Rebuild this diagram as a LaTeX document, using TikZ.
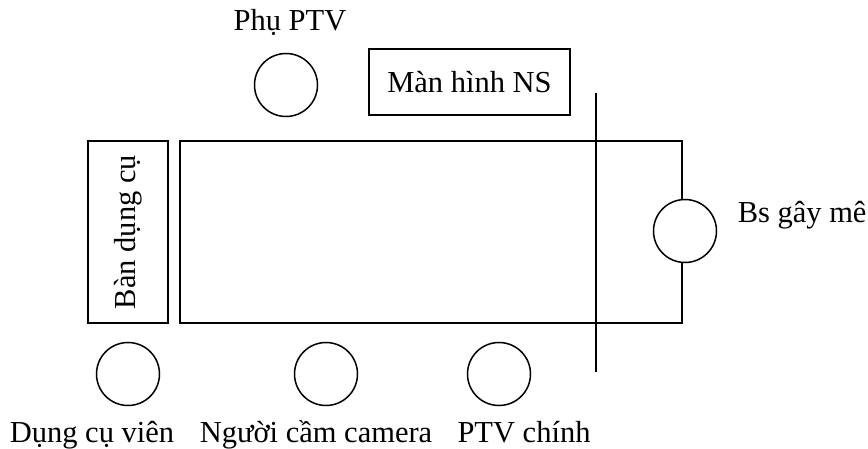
\documentclass[tikz,border=0pt]{standalone}
\usepackage{fontspec}
\setmainfont{Liberation Serif}
\begin{document}
\begin{tikzpicture}[x=1pt,y=-1pt,line width=1.5pt,
  person/.style={draw,circle,minimum size=63pt,inner sep=0pt},
  box/.style={draw,rectangle,inner sep=0pt},
  lbl/.style={inner sep=0pt,anchor=base,font=\fontsize{30.5}{34}\selectfont}]
\useasboundingbox (0,0) rectangle (868,449);
% operating table
\node[box,minimum width=502pt,minimum height=182pt] (table) at (431,232) {};
% instrument table
\node[box,rotate=90,minimum width=182pt,minimum height=80pt,font=\fontsize{30.5}{34}\selectfont] (instr) at (128,232) {Bàn dụng cụ};
% monitor
\node[box,minimum width=201pt,minimum height=66pt,font=\fontsize{30.5}{34}\selectfont] (monitor) at (469.5,82) {Màn hình NS};
% separation line
\coordinate (ltop) at (596,93);
\coordinate (lbot) at (596,372);
\draw (ltop) -- (lbot);
% people
\node[person] (phu) at (286,85) {};
\node[person,fill=white] (bs) at (685,231) {};
\node[person] (dcv) at (128,374) {};
\node[person] (cam) at (326,374) {};
\node[person] (ptv) at (499,374) {};
% labels
\node[lbl] (lphu) at (290,31) {Phụ PTV};
\node[lbl,anchor=base west] (lbs) at (737,223) {Bs gây mê};
\node[lbl] (ldcv) at (92,442) {Dụng cụ viên};
\node[lbl] (lcam) at (316,442) {Người cầm camera};
\node[lbl] (lptv) at (524,442) {PTV chính};
\end{tikzpicture}
\end{document}
